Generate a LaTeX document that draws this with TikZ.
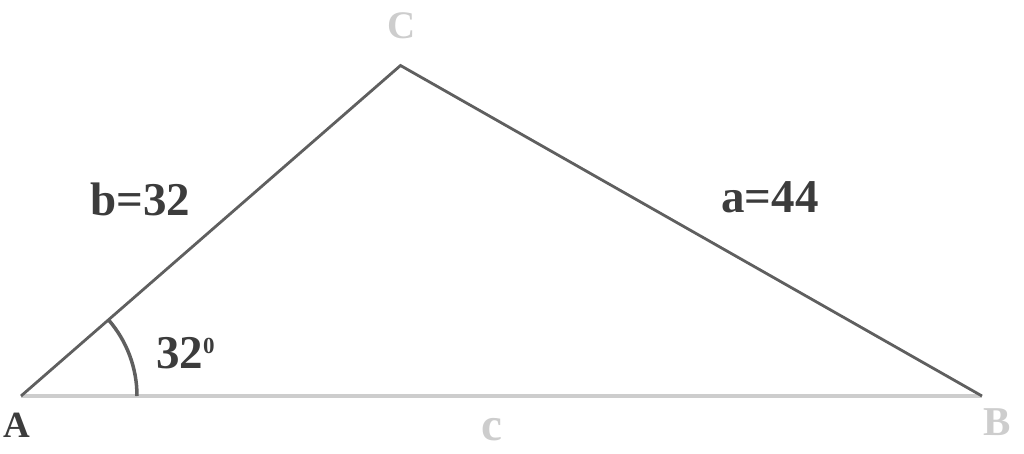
\documentclass[tikz,border=0pt]{standalone}
\usepackage{fontspec}
\setmainfont{Liberation Serif}
\usepackage{tikz}
\definecolor{darkside}{RGB}{95,95,95}
\definecolor{darktext}{RGB}{60,60,60}
\definecolor{lightside}{RGB}{205,205,205}
\tikzset{
  label/.style={anchor=base west, inner sep=0pt, font=\bfseries},
  big/.style={label, font=\fontsize{47}{52}\selectfont\bfseries},
}
\begin{document}
\begin{tikzpicture}[x=1pt, y=-1pt]
		\useasboundingbox (0, 0) rectangle (1024, 453);
		% vertices
		\coordinate (A) at (21, 396);
		\coordinate (B) at (982, 396);
		\coordinate (C) at (400.5, 65.5);
		% draw base
		\draw [lightside, line width=3.5pt] (A) -- (B);
		% draw sides
		\draw [darkside, line width=2.8pt, line join=miter] (A) -- (C) -- (B);
		% draw angle
		\draw [darkside, line width=3.5pt] (A) ++(116, 0) arc [start angle=0, end angle=-41, radius=116];
		% draw vertex labels
		\node [label, text=darktext, font=\fontsize{37}{40}\selectfont\bfseries] (labA) at (3, 437) {A};
		\node [label, text=lightside, font=\fontsize{41}{44}\selectfont\bfseries] (labB) at (983, 435) {B};
		\node [label, text=lightside, font=\fontsize{39}{42}\selectfont\bfseries] (labC) at (387, 38) {C};
		% draw side labels
		\node [big, text=darktext] (sideb) at (90, 215) {b=32};
		\node [big, text=darktext] (sidea) at (721, 212) {a=44};
		\node [big, text=lightside] (sidec) at (481, 440) {c};
		% draw angle label
		\node [big, text=darktext] (ang) at (156, 368) {32\raisebox{15pt}{\fontsize{23}{24}\selectfont 0}};
	\end{tikzpicture}
\end{document}
